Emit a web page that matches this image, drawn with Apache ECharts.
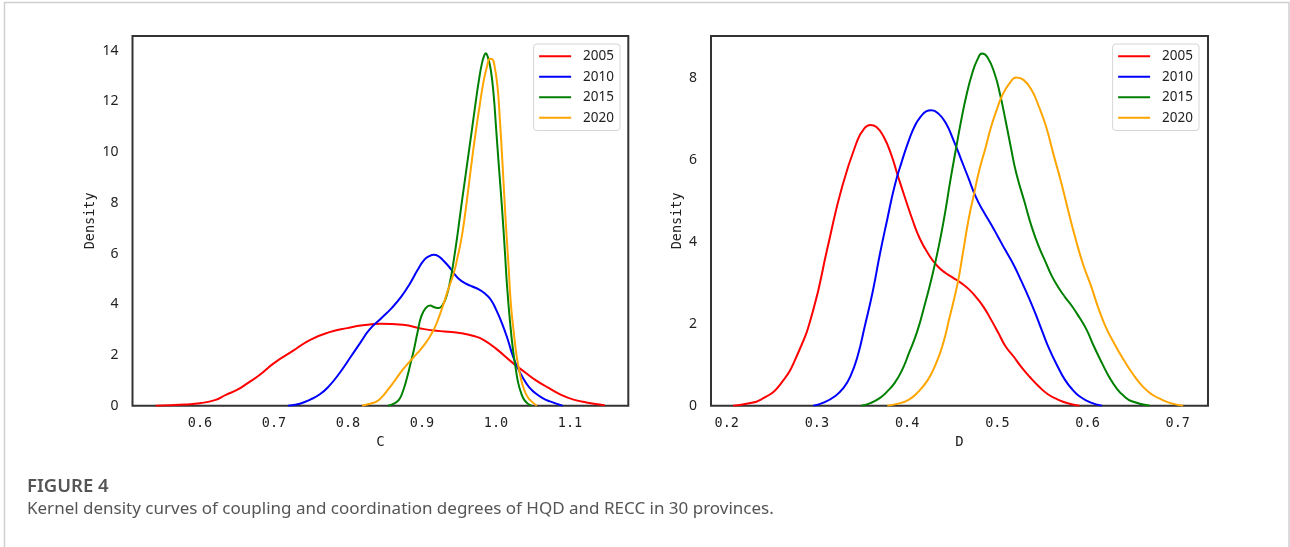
<!DOCTYPE html>
<html>
<head>
<meta charset="utf-8">
<script src="https://cdn.jsdelivr.net/npm/echarts@6/dist/echarts.min.js"></script>
<style>
html,body{margin:0;padding:0;background:#fff;}
#chart{width:1290px;height:547px;}
</style>
</head>
<body>
<div id="chart"></div>
<script>
// ---- data ----
const years = ['2005', '2010', '2015', '2020'];

// Left panel: coupling degree C
const c2005X = [0.540,0.560,0.580,0.600,0.620,0.635,0.650,0.665,0.680,0.700,0.725,0.749,0.775,0.799,0.820,0.844,0.874,0.903,0.930,0.953,0.970,0.983,1.000,1.023,1.040,1.053,1.070,1.088,1.105,1.122,1.147];
const c2005Y = [0.0,0.02,0.05,0.10,0.22,0.43,0.62,0.90,1.20,1.68,2.15,2.60,2.90,3.06,3.17,3.23,3.19,3.02,2.93,2.86,2.75,2.60,2.25,1.68,1.30,1.02,0.72,0.43,0.24,0.13,0.02];
const c2010X = [0.719,0.735,0.749,0.762,0.774,0.789,0.804,0.817,0.829,0.845,0.859,0.872,0.884,0.894,0.903,0.910,0.916,0.922,0.928,0.936,0.943,0.950,0.958,0.968,0.978,0.986,0.993,1.000,1.008,1.016,1.023,1.030,1.038,1.045,1.053,1.063,1.073,1.090];
const c2010Y = [0.0,0.08,0.24,0.45,0.76,1.30,1.94,2.50,3.00,3.45,3.85,4.30,4.83,5.35,5.75,5.90,5.95,5.90,5.75,5.50,5.23,5.00,4.83,4.70,4.57,4.40,4.18,3.80,3.26,2.60,1.94,1.45,1.02,0.72,0.50,0.30,0.17,0.0];
const c2015X = [0.854,0.862,0.869,0.874,0.879,0.884,0.889,0.894,0.899,0.905,0.911,0.917,0.923,0.928,0.933,0.938,0.943,0.948,0.953,0.958,0.963,0.968,0.973,0.977,0.981,0.984,0.986,0.989,0.993,0.997,1.000,1.004,1.008,1.012,1.015,1.019,1.023,1.027,1.030,1.034,1.038,1.043,1.048];
const c2015Y = [0.0,0.08,0.24,0.55,1.02,1.60,2.20,2.90,3.52,3.85,3.95,3.88,3.85,3.98,4.31,4.90,5.75,6.75,7.85,8.90,9.95,11.0,12.06,12.85,13.5,13.8,13.9,13.75,13.24,12.2,11.0,9.4,7.85,6.1,4.7,3.3,2.2,1.4,0.9,0.5,0.24,0.08,0.0];
const c2020X = [0.819,0.830,0.839,0.847,0.854,0.864,0.874,0.884,0.894,0.901,0.908,0.913,0.918,0.923,0.928,0.935,0.943,0.948,0.953,0.958,0.963,0.968,0.973,0.978,0.983,0.988,0.992,0.995,0.998,1.002,1.005,1.009,1.013,1.017,1.020,1.024,1.028,1.033,1.038,1.043,1.048,1.055];
const c2020Y = [0.0,0.08,0.17,0.38,0.63,1.02,1.42,1.76,2.08,2.32,2.60,2.85,3.13,3.50,3.91,4.55,5.23,5.85,6.54,7.50,8.64,9.80,10.87,11.85,12.75,13.40,13.68,13.66,13.40,12.6,11.40,9.45,7.33,5.50,4.05,2.90,1.94,1.15,0.63,0.33,0.17,0.0];

// Right panel: coordination degree D
const d2005X = [0.207,0.222,0.238,0.259,0.279,0.296,0.312,0.328,0.345,0.352,0.359,0.366,0.374,0.382,0.390,0.398,0.406,0.414,0.423,0.433,0.443,0.451,0.460,0.468,0.476,0.485,0.493,0.501,0.509,0.518,0.526,0.536,0.546,0.556,0.567,0.578,0.591];
const d2005Y = [0.0,0.05,0.15,0.51,1.28,2.34,3.88,5.35,6.48,6.75,6.85,6.80,6.56,6.15,5.59,5.05,4.53,4.08,3.72,3.42,3.23,3.12,2.99,2.85,2.66,2.40,2.10,1.78,1.45,1.20,0.96,0.70,0.47,0.28,0.15,0.06,0.0];
const d2010X = [0.296,0.308,0.320,0.329,0.337,0.345,0.353,0.362,0.370,0.378,0.386,0.394,0.402,0.409,0.415,0.421,0.427,0.435,0.443,0.451,0.460,0.468,0.476,0.484,0.493,0.501,0.509,0.518,0.526,0.534,0.542,0.550,0.558,0.567,0.575,0.583,0.591,0.603,0.616];
const d2010Y = [0.0,0.08,0.23,0.42,0.71,1.20,1.93,2.80,3.72,4.55,5.35,5.95,6.48,6.85,7.05,7.18,7.21,7.12,6.89,6.50,6.00,5.55,5.10,4.76,4.43,4.11,3.79,3.44,3.07,2.68,2.26,1.80,1.36,0.95,0.63,0.40,0.23,0.08,0.0];
const d2015X = [0.349,0.360,0.370,0.378,0.386,0.394,0.402,0.411,0.419,0.427,0.435,0.442,0.448,0.454,0.460,0.466,0.472,0.478,0.483,0.489,0.497,0.503,0.509,0.515,0.521,0.530,0.538,0.546,0.554,0.560,0.567,0.575,0.583,0.591,0.599,0.607,0.616,0.624,0.632,0.640,0.649,0.669];
const d2015Y = [0.0,0.07,0.19,0.35,0.55,0.85,1.28,1.80,2.42,3.10,3.88,4.70,5.51,6.25,6.97,7.60,8.10,8.45,8.59,8.50,8.10,7.60,6.97,6.30,5.67,4.98,4.37,3.88,3.48,3.18,2.91,2.65,2.42,2.15,1.85,1.45,1.04,0.70,0.43,0.24,0.11,0.0];
const d2020X = [0.378,0.390,0.402,0.412,0.423,0.431,0.439,0.447,0.456,0.462,0.468,0.474,0.480,0.487,0.493,0.499,0.505,0.513,0.521,0.529,0.538,0.546,0.554,0.562,0.571,0.579,0.587,0.595,0.604,0.612,0.620,0.630,0.640,0.650,0.661,0.671,0.682,0.694,0.706];
const d2020Y = [0.0,0.05,0.15,0.33,0.63,0.98,1.45,2.15,2.99,3.75,4.53,5.15,5.75,6.30,6.80,7.20,7.55,7.85,8.01,7.95,7.70,7.30,6.81,6.15,5.43,4.72,4.05,3.45,2.91,2.38,1.93,1.50,1.12,0.78,0.47,0.28,0.15,0.05,0.0];

const xTicksC = [0.6, 0.7, 0.8, 0.9, 1.0, 1.1];
const xTicksD = [0.2, 0.3, 0.4, 0.5, 0.6, 0.7];
const yTicksC = [0, 2, 4, 6, 8, 10, 12, 14];
const yTicksD = [0, 2, 4, 6, 8];

const captionTitle = 'FIGURE 4';
const captionText = 'Kernel density curves of coupling and coordination degrees of HQD and RECC in 30 provinces.';

// ---- chart ----
const colors = ['#ff0000', '#0000ff', '#008000', '#ffa500'];
const zip = (xs, ys) => xs.map((x, i) => [x, ys[i]]);
const leftData = [zip(c2005X, c2005Y), zip(c2010X, c2010Y), zip(c2015X, c2015Y), zip(c2020X, c2020Y)];
const rightData = [zip(d2005X, d2005Y), zip(d2010X, d2010Y), zip(d2015X, d2015Y), zip(d2020X, d2020Y)];

const monoFont = '"DejaVu Sans Mono", "Liberation Mono", monospace';
const sansFont = '"Noto Sans", "DejaVu Sans", sans-serif';

function tickFormatter(ticks, digits) {
  return function (v) {
    for (const t of ticks) {
      if (Math.abs(v - t) < 1e-6) return digits ? t.toFixed(digits) : String(t);
    }
    return '';
  };
}

function xAxisCfg(gridIndex, min, max, name, ticks) {
  return {
    type: 'value', gridIndex, min, max, name,
    nameLocation: 'middle', nameGap: 29,
    nameTextStyle: { fontFamily: monoFont, fontSize: 14, color: '#222' },
    axisLine: { show: false }, axisTick: { show: false }, splitLine: { show: false },
    axisLabel: { margin: 11, fontFamily: monoFont, fontSize: 13.5, color: '#222',
      showMinLabel: false, showMaxLabel: false, formatter: tickFormatter(ticks, 1) }
  };
}
function yAxisCfg(gridIndex, max, ticks, nameGap) {
  return {
    type: 'value', gridIndex, min: 0, max, interval: 2, name: 'Density',
    nameLocation: 'middle', nameGap,
    nameTextStyle: { fontFamily: monoFont, fontSize: 13.5, color: '#222' },
    axisLine: { show: false }, axisTick: { show: false }, splitLine: { show: false },
    axisLabel: { margin: 14, fontFamily: sansFont, fontSize: 14, color: '#222',
      formatter: tickFormatter(ticks, 0) }
  };
}
function legendCfg(right, seriesIds) {
  return {
    data: seriesIds.map((id, i) => ({ name: id, icon: 'rect', itemStyle: { color: colors[i] } })),
    orient: 'vertical', top: 44, right,
    itemWidth: 32, itemHeight: 2, itemGap: 2,
    padding: [3, 6, 3.5, 5.5],
    backgroundColor: '#fff', borderColor: '#d6d6d6', borderWidth: 1, borderRadius: 3,
    textStyle: { fontFamily: sansFont, fontSize: 13.5, color: '#222', lineHeight: 18.5,
      padding: [0, 0, 0, 7] },
    formatter: function (n) { return n.split('|')[0]; },
    selectedMode: false
  };
}

const series = [];
years.forEach((y, i) => {
  series.push({ name: y + '|C', type: 'line', xAxisIndex: 0, yAxisIndex: 0, data: leftData[i],
    smooth: 0.5, showSymbol: false, symbol: 'none',
    lineStyle: { color: colors[i], width: 2 }, itemStyle: { color: colors[i] }, z: 3 + i });
});
years.forEach((y, i) => {
  series.push({ name: y + '|D', type: 'line', xAxisIndex: 1, yAxisIndex: 1, data: rightData[i],
    smooth: 0.5, showSymbol: false, symbol: 'none',
    lineStyle: { color: colors[i], width: 2 }, itemStyle: { color: colors[i] }, z: 3 + i });
});

const option = {
  animation: false,
  backgroundColor: '#fff',
  grid: [
    { left: 132.5, top: 36, width: 495.8, height: 369.7, show: true, borderColor: '#333', borderWidth: 2, backgroundColor: 'transparent' },
    { left: 711, top: 36, width: 497, height: 369.7, show: true, borderColor: '#333', borderWidth: 2, backgroundColor: 'transparent' }
  ],
  xAxis: [
    xAxisCfg(0, 0.5088, 1.1788, 'C', xTicksC),
    xAxisCfg(1, 0.1826, 0.7335, 'D', xTicksD)
  ],
  yAxis: [
    yAxisCfg(0, 14.58, yTicksC, 35),
    yAxisCfg(1, 9.02, yTicksD, 27)
  ],
  legend: [
    legendCfg(1290 - 620, years.map(y => y + '|C')),
    legendCfg(1290 - 1199, years.map(y => y + '|D'))
  ],
  graphic: [
    { type: 'rect', shape: { x: 4.5, y: 2.5, width: 1284.5, height: 600 },
      style: { fill: 'none', stroke: '#d0d0d0', lineWidth: 1.5 }, silent: true },
    { type: 'text', left: 27, top: 477,
      style: { text: captionTitle, fontFamily: sansFont, fontSize: 18.5, fontWeight: 600, fill: '#555' } },
    { type: 'text', left: 27, top: 501,
      style: { text: captionText, fontFamily: sansFont, fontSize: 17, fill: '#555' } }
  ],
  series
};

const chart = echarts.init(document.getElementById('chart'), null, { renderer: 'canvas' });
chart.setOption(option);
</script>
</body>
</html>
